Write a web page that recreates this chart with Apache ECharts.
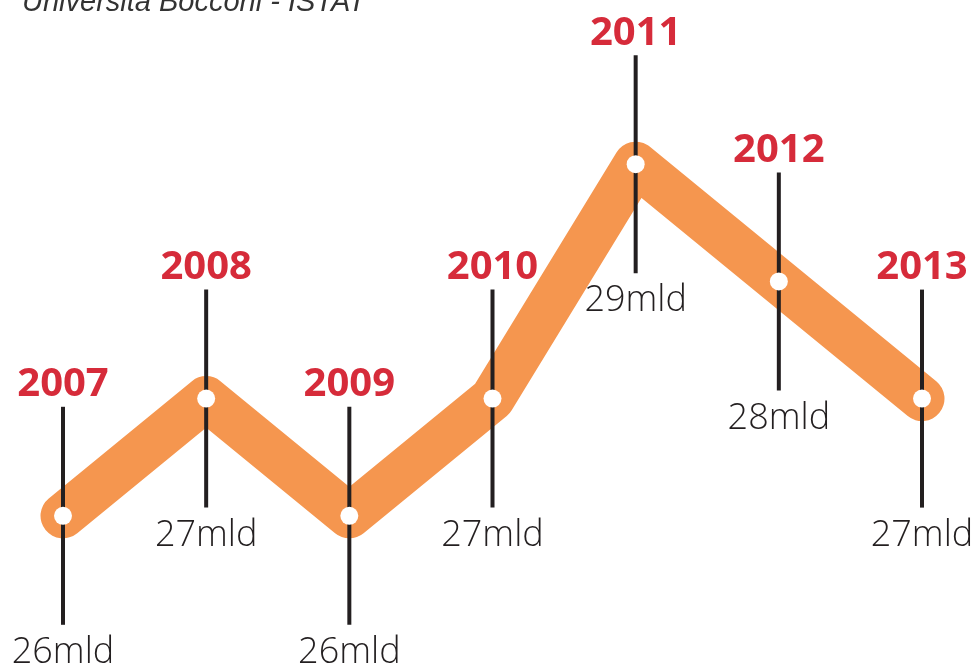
<!DOCTYPE html>
<html>
<head>
<meta charset="utf-8">
<script src="https://cdn.jsdelivr.net/npm/echarts@6/dist/echarts.min.js"></script>
<style>
  html, body { margin: 0; padding: 0; background: #fff; }
  #chart { width: 973px; height: 664px; }
</style>
</head>
<body>
<div id="chart"></div>
<script>
const years = ['2007', '2008', '2009', '2010', '2011', '2012', '2013'];
const values = [26, 27, 26, 27, 29, 28, 27];
const valueLabels = values.map(v => v + 'mld');
const source = 'Università Bocconi - ISTAT';

const chart = echarts.init(document.getElementById('chart'));

const stick = 109; // half length of the black stick, px

const option = {
	animation: false,
	backgroundColor: '#fff',
	grid: { left: 63, right: 51, top: 47, bottom: 31 },
	xAxis: {
		type: 'category',
		data: years,
		boundaryGap: false,
		show: false
	},
	yAxis: {
		type: 'value',
		min: 25,
		max: 30,
		show: false
	},
	graphic: [{
		type: 'text',
		left: 22,
		top: -12,
		style: {
			text: source,
			font: 'italic 29px "Liberation Sans", Arial, sans-serif',
			fill: '#333'
		}
	}],
	series: [
		{
			type: 'line',
			data: values,
			symbol: 'none',
			z: 1,
			lineStyle: {
				color: '#F5964F',
				width: 45,
				cap: 'round',
				join: 'round'
			}
		},
		{
			type: 'custom',
			z: 2,
			data: values.map((v, i) => [i, v]),
			renderItem: function (params, api) {
				const p = api.coord([api.value(0), api.value(1)]);
				const i = params.dataIndex;
				return {
					type: 'group',
					children: [
						{
							type: 'line',
							shape: { x1: p[0], y1: p[1] - stick, x2: p[0], y2: p[1] + stick },
							style: { stroke: '#231F20', lineWidth: 4 }
						},
						{
							type: 'text',
							x: p[0],
							y: p[1] - stick - 2,
							style: {
								text: years[i],
								align: 'center',
								verticalAlign: 'bottom',
								font: 'bold 40px "Open Sans", sans-serif',
								fill: '#D62B3A'
							}
						},
						{
							type: 'text',
							x: p[0],
							y: p[1] + stick + 10,
							style: {
								text: valueLabels[i],
								align: 'center',
								verticalAlign: 'top',
								font: '300 36px "Open Sans", sans-serif',
								fill: '#231F20'
							}
						}
					]
				};
			}
		},
		{
			type: 'scatter',
			z: 3,
			data: values,
			symbol: 'circle',
			symbolSize: 18,
			itemStyle: { color: '#fff', opacity: 1 }
		}
	]
};

chart.setOption(option);
</script>
</body>
</html>
